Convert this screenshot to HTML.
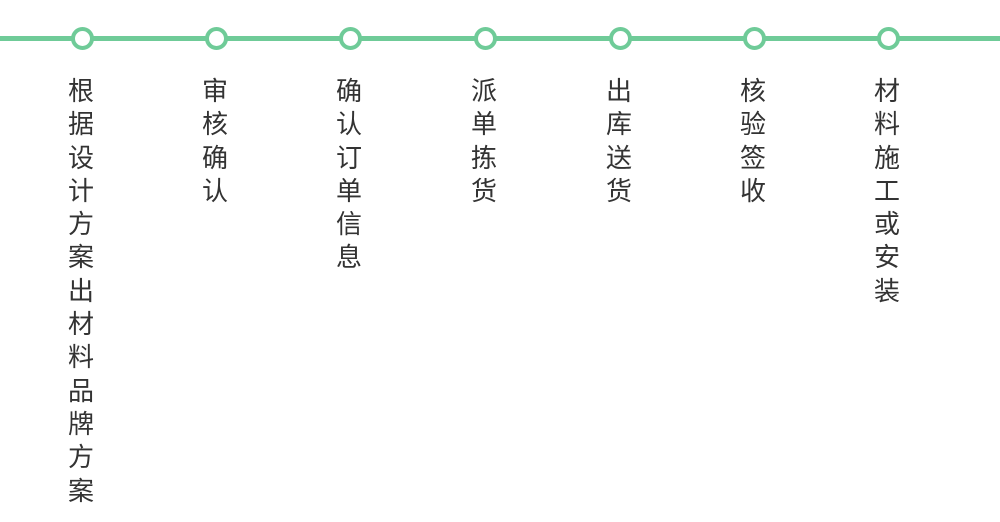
<!DOCTYPE html>
<html><head><meta charset="utf-8"><style>
html,body{margin:0;padding:0;background:#fff;}
body{width:1000px;height:522px;position:relative;overflow:hidden;font-family:"Liberation Sans","Noto Sans CJK SC",sans-serif;}
.line{position:absolute;left:0;top:36px;width:1000px;height:5px;background:#6fcb98;}
.dot{position:absolute;top:27px;width:15px;height:15px;border:4px solid #6fcb98;border-radius:50%;background:#fff;}
.col{position:absolute;top:75px;width:40px;text-align:center;font-size:26px;line-height:33.3px;color:#333;}
</style></head><body>
<div class="line"></div>
<div class="dot" style="left:71px"></div>
<div class="dot" style="left:205px"></div>
<div class="dot" style="left:339px"></div>
<div class="dot" style="left:474px"></div>
<div class="dot" style="left:609px"></div>
<div class="dot" style="left:743px"></div>
<div class="dot" style="left:877px"></div>
<div class="col" style="left:61px">根<br>据<br>设<br>计<br>方<br>案<br>出<br>材<br>料<br>品<br>牌<br>方<br>案</div>
<div class="col" style="left:195px">审<br>核<br>确<br>认</div>
<div class="col" style="left:329px">确<br>认<br>订<br>单<br>信<br>息</div>
<div class="col" style="left:464px">派<br>单<br>拣<br>货</div>
<div class="col" style="left:599px">出<br>库<br>送<br>货</div>
<div class="col" style="left:733px">核<br>验<br>签<br>收</div>
<div class="col" style="left:867px">材<br>料<br>施<br>工<br>或<br>安<br>装</div>
</body></html>
